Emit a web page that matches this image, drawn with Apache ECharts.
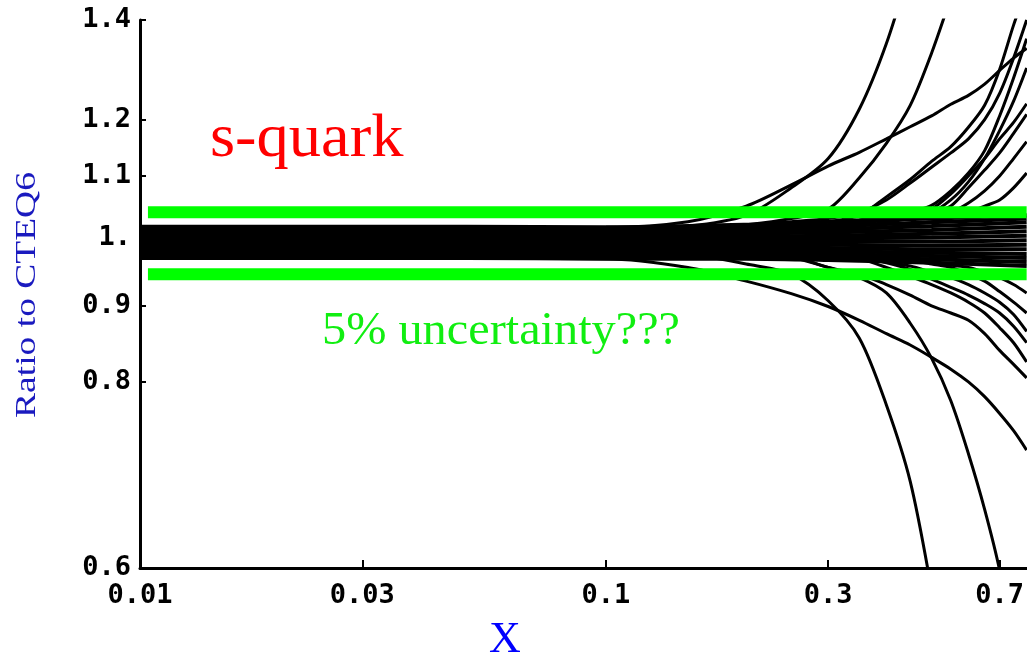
<!DOCTYPE html>
<html>
<head>
<meta charset="utf-8">
<script src="https://cdn.jsdelivr.net/npm/echarts@6/dist/echarts.min.js"></script>
<style>
  html, body { margin: 0; padding: 0; background: #fff; }
  #chart { width: 1027px; height: 658px; }
</style>
</head>
<body>
<div id="chart"></div>
<script>
// x values shared by the diverging curves
const xGrid = [0.01, 0.1, 0.15, 0.2, 0.25, 0.3, 0.35, 0.4, 0.45, 0.5, 0.55, 0.6, 0.65, 0.7, 0.75, 0.8];

// curves that bend upward at large x
const up1 = [1.010, 1.012, 1.018, 1.035, 1.08, 1.13, 1.22, 1.35, 1.52, null, null, null, null, null, null, null];
const up2 = [1.005, 1.008, 1.012, 1.02, 1.03, 1.045, 1.097, 1.157, 1.227, 1.33, 1.45, null, null, null, null, null];
const up3 = [1.015, 1.016, 1.025, 1.05, 1.085, 1.117, 1.141, 1.165, 1.187, 1.207, 1.229, 1.246, 1.268, 1.295, 1.32, 1.34];
const up4 = [1.0, 1.005, 1.008, 1.012, 1.018, 1.025, 1.035, 1.065, 1.094, 1.125, 1.151, 1.186, 1.227, 1.297, 1.389, 1.47];
const up5 = [1.012, 1.014, 1.016, 1.02, 1.025, 1.03, 1.04, 1.06, 1.088, 1.115, 1.14, 1.165, 1.2, 1.25, 1.32, 1.4];
const up6 = [1.003, 1.006, 1.008, 1.01, 1.015, 1.02, 1.025, 1.03, 1.04, 1.051, 1.075, 1.105, 1.144, 1.207, 1.28, 1.36];
const up7 = [1.008, 1.01, 1.012, 1.015, 1.018, 1.02, 1.024, 1.028, 1.032, 1.036, 1.04, 1.055, 1.075, 1.1, 1.13, 1.16];
const up8 = [1.0, 1.002, 1.004, 1.006, 1.008, 1.01, 1.013, 1.016, 1.02, 1.025, 1.03, 1.04, 1.05, 1.06, 1.08, 1.105];
const up9 = [1.006, 1.008, 1.01, 1.012, 1.015, 1.018, 1.022, 1.028, 1.035, 1.045, 1.07, 1.1, 1.13, 1.165, 1.195, 1.23];
const up10 = [0.998, 1.0, 1.003, 1.006, 1.01, 1.014, 1.018, 1.024, 1.03, 1.038, 1.05, 1.08, 1.11, 1.14, 1.175, 1.21];
const up11 = [1.011, 1.012, 1.014, 1.016, 1.02, 1.024, 1.028, 1.032, 1.036, 1.04, 1.06, 1.09, 1.13, 1.18, 1.235, 1.3];

// curves that bend downward at large x
const down1 = [0.985, 0.982, 0.975, 0.96, 0.945, 0.907, 0.856, 0.772, 0.686, 0.58, null, null, null, null, null, null];
const down2 = [0.97, 0.968, 0.955, 0.935, 0.917, 0.899, 0.88, 0.862, 0.847, 0.831, 0.816, 0.8, 0.782, 0.762, 0.742, 0.72];
const down3 = [0.99, 0.99, 0.988, 0.982, 0.97, 0.955, 0.94, 0.918, 0.876, 0.83, 0.777, 0.716, 0.657, 0.598, 0.53, null];
const down4 = [0.995, 0.994, 0.992, 0.99, 0.985, 0.978, 0.968, 0.955, 0.942, 0.93, 0.918, 0.905, 0.89, 0.87, 0.85, 0.825];
const down5 = [0.983, 0.983, 0.982, 0.98, 0.978, 0.975, 0.97, 0.962, 0.952, 0.938, 0.926, 0.915, 0.903, 0.89, 0.872, 0.85];
const down6 = [0.979, 0.979, 0.978, 0.977, 0.975, 0.972, 0.968, 0.963, 0.957, 0.948, 0.94, 0.93, 0.918, 0.905, 0.888, 0.865];
const down7 = [0.987, 0.987, 0.986, 0.985, 0.983, 0.98, 0.976, 0.972, 0.966, 0.96, 0.955, 0.945, 0.935, 0.92, 0.905, 0.89];
const down8 = [0.975, 0.975, 0.975, 0.974, 0.973, 0.972, 0.97, 0.968, 0.965, 0.962, 0.958, 0.955, 0.948, 0.94, 0.93, 0.918];
const down9 = [0.992, 0.991, 0.988, 0.982, 0.972, 0.955, 0.945, 0.93, 0.915, 0.9, 0.89, 0.88, 0.862, 0.84, 0.822, 0.805];

// the flat bundle round 1
const bandX = [0.01, 0.05, 0.1, 0.2, 0.3, 0.5, 0.8];
const band1 = [1.017, 1.017, 1.016, 1.02, 1.025, 1.03, 1.035];
const band2 = [1.013, 1.013, 1.013, 1.015, 1.018, 1.024, 1.03];
const band3 = [1.009, 1.009, 1.01, 1.011, 1.013, 1.018, 1.024];
const band4 = [1.005, 1.005, 1.006, 1.007, 1.008, 1.012, 1.017];
const band5 = [1.001, 1.001, 1.002, 1.002, 1.003, 1.006, 1.01];
const band6 = [0.997, 0.997, 0.998, 0.998, 0.999, 1.0, 1.003];
const band7 = [0.993, 0.993, 0.993, 0.994, 0.994, 0.994, 0.996];
const band8 = [0.989, 0.989, 0.989, 0.99, 0.989, 0.988, 0.989];
const band9 = [0.985, 0.985, 0.985, 0.985, 0.984, 0.982, 0.982];
const band10 = [0.981, 0.981, 0.981, 0.98, 0.979, 0.977, 0.975];
const band11 = [0.977, 0.977, 0.977, 0.976, 0.974, 0.972, 0.969];
const band12 = [0.973, 0.973, 0.973, 0.972, 0.97, 0.967, 0.963];
const band13 = [0.969, 0.969, 0.968, 0.968, 0.966, 0.962, 0.957];

// green 5% lines
const greenX = [0.0104, 0.8];
const greenUpper = 1.04;
const greenLower = 0.945;

const xTicks = [0.01, 0.03, 0.1, 0.3, 0.7];
const yTicks = [0.6, 0.8, 0.9, 1, 1.1, 1.2, 1.4];

const lg = Math.log10;

function toPoints(xs, ys) {
    const pts = [];
    xs.forEach((x, i) => {
        if (ys[i] != null) pts.push([lg(x), lg(ys[i])]);
    });
    return pts;
}

const curveList = [up1, up2, up3, up4, up5, up6, up7, up8, up9, up10, up11,
    down1, down2, down3, down4, down5, down6, down7, down8, down9];
const bandList = [band1, band2, band3, band4, band5, band6, band7, band8, band9,
    band10, band11, band12, band13];

const blackLine = (data, w) => ({
    type: 'line',
    data: data,
    smooth: 0.3,
    showSymbol: false,
    silent: true,
    lineStyle: {color: '#000', width: w}
});

const series = [];
bandList.forEach(b => series.push(blackLine(toPoints(bandX, b), 4)));
curveList.forEach(c => series.push(blackLine(toPoints(xGrid, c), 3)));
[greenUpper, greenLower].forEach(v => {
    series.push({
        type: 'line',
        data: greenX.map(x => [lg(x), lg(v)]),
        showSymbol: false,
        silent: true,
        z: 5,
        lineStyle: {color: '#00ff00', width: 12}
    });
});

const labelFont = {
    color: '#000',
    fontFamily: 'DejaVu Sans Mono',
    fontWeight: 'bold',
    fontSize: 27
};

const chart = echarts.init(document.getElementById('chart'));
chart.setOption({
    animation: false,
    grid: {left: 140, right: 0, top: 20, bottom: 90},
    xAxis: {
        type: 'value',
        min: -2,
        max: lg(0.8),
        axisLine: {onZero: false, lineStyle: {color: '#000', width: 3}},
        axisTick: {inside: true, length: 8, customValues: xTicks.map(lg), lineStyle: {color: '#000', width: 2}},
        axisLabel: Object.assign({
            customValues: xTicks.map(lg),
            margin: 14,
            formatter: (v) => String(Math.round(Math.pow(10, v) * 100) / 100)
        }, labelFont),
        splitLine: {show: false}
    },
    yAxis: {
        type: 'value',
        min: lg(0.6),
        max: lg(1.4),
        axisLine: {show: true, onZero: false, lineStyle: {color: '#000', width: 3}},
        axisTick: {show: true, inside: true, length: 6, customValues: yTicks.map(lg), lineStyle: {color: '#000', width: 2}},
        axisLabel: Object.assign({
            customValues: yTicks.map(lg),
            margin: 9,
            formatter: (v) => {
                const r = Math.round(Math.pow(10, v) * 10) / 10;
                return r === 1 ? '1.' : r.toFixed(1);
            }
        }, labelFont),
        splitLine: {show: false}
    },
    graphic: [
        {
            type: 'text', x: 210, y: 140, scaleX: 1.04,
            style: {text: 's-quark', fill: '#ff0000', font: '62px "Liberation Serif"', verticalAlign: 'middle'}
        },
        {
            type: 'text', x: 322, y: 332, scaleX: 1.05,
            style: {text: '5% uncertainty???', fill: '#11ee11', font: '46px "Liberation Serif"', verticalAlign: 'middle'}
        },
        {
            type: 'text', x: 27, y: 295, rotation: Math.PI / 2, scaleX: 1.25,
            style: {text: 'Ratio to CTEQ6', fill: '#1a1abf', font: '30px "Liberation Serif"', align: 'center', verticalAlign: 'middle'}
        },
        {
            type: 'text', x: 505, y: 640,
            style: {text: 'X', fill: '#0000ff', font: '44px "Liberation Serif"', align: 'center', verticalAlign: 'middle'}
        }
    ],
    series: series
});
</script>
</body>
</html>
